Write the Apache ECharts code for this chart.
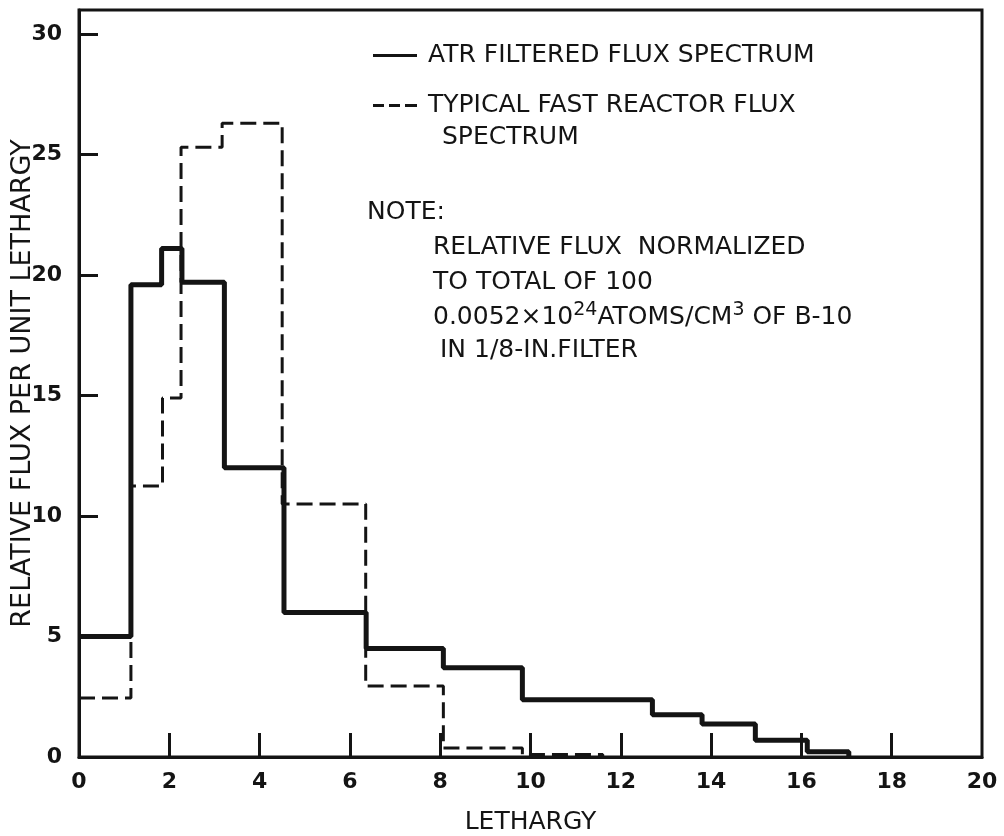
<!DOCTYPE html>
<html>
<head>
<meta charset="utf-8">
<script src="https://cdn.jsdelivr.net/npm/echarts@6/dist/echarts.min.js"></script>
<style>
  html, body { margin: 0; background: #fff; }
  #chart { width: 1004px; height: 836px; }
</style>
</head>
<body>
<div id="chart"></div>
<script>
// bin edges (lethargy) and flux per unit lethargy
const atrEdges = [0, 1.15, 1.83, 2.28, 3.22, 4.54, 6.36, 8.07, 9.82, 12.7, 13.8, 14.98, 16.13, 17.05];
const atrValues = [5.0, 19.6, 21.1, 19.7, 12.0, 6.0, 4.5, 3.7, 2.38, 1.75, 1.37, 0.7, 0.22];
const fastEdges = [0, 1.15, 1.85, 2.26, 3.17, 4.5, 6.35, 8.07, 9.82, 11.6];
const fastValues = [2.45, 11.25, 14.9, 25.3, 26.3, 10.5, 2.95, 0.37, 0.1];

const xTicks = [2, 4, 6, 8, 10, 12, 14, 16, 18];
const xLabels = [0, 2, 4, 6, 8, 10, 12, 14, 16, 18, 20];
const yTicks = [5, 10, 15, 20, 25, 30];
const yLabels = [0, 5, 10, 15, 20, 25, 30];

const ATR_NAME = 'ATR FILTERED FLUX SPECTRUM';
const FAST_NAME = 'TYPICAL FAST REACTOR FLUX';

const INK = '#141414';
const FONT = 'DejaVu Sans';

// legend glyphs: a plain bar and three dashes
const SOLID_ICON = 'path://M0,0H44V3H0Z';
const DASH_ICON = 'path://M0,0H11V3H0Z M16,0H27V3H16Z M32,0H44V3H32Z';

// turn edges + bin values into step points (step: 'end')
const toSteps = (edges, values) => {
  const pts = values.map((v, i) => [edges[i], v]);
  pts.push([edges[edges.length - 1], 0]);
  return pts;
};

const textLine = (x, y, text) => ({
  type: 'text', x, y,
  style: { text, fontFamily: FONT, fontSize: 25, fill: INK, verticalAlign: 'middle' },
});

const chart = echarts.init(document.getElementById('chart'));
chart.setOption({
  animation: false,
  backgroundColor: '#fff',
  grid: {
    left: 79,
    right: 22,
    top: 10,
    bottom: 79,
    show: true,
    borderColor: INK,
    borderWidth: 3,
    containLabel: false,
    outerBoundsMode: 'none',
  },
  legend: {
    orient: 'vertical',
    left: 368,
    top: 38,
    itemWidth: 44,
    itemHeight: 3,
    itemGap: 25,
    data: [
      { name: ATR_NAME, icon: SOLID_ICON },
      { name: FAST_NAME, icon: DASH_ICON },
    ],
    textStyle: {
      fontFamily: FONT,
      fontSize: 25,
      color: INK,
      padding: [0, 0, 0, 6],
    },
  },
  xAxis: {
    type: 'value',
    min: 0,
    max: 20,
    interval: 2,
    name: 'LETHARGY',
    nameLocation: 'middle',
    nameGap: 53,
    nameTextStyle: { fontFamily: FONT, fontSize: 25, color: INK },
    axisLine: { show: true, lineStyle: { color: INK, width: 3 } },
    axisTick: {
      show: true,
      inside: true,
      length: 24,
      customValues: xTicks,
      lineStyle: { color: INK, width: 3 },
    },
    axisLabel: {
      customValues: xLabels,
      margin: 14,
      fontFamily: FONT,
      fontSize: 22,
      fontWeight: 'bold',
      color: INK,
    },
    splitLine: { show: false },
  },
  yAxis: {
    type: 'value',
    min: 0,
    max: 31,
    interval: 5,
    name: 'RELATIVE FLUX PER UNIT LETHARGY',
    nameLocation: 'middle',
    nameGap: 43,
    nameMoveOverlap: false,
    nameTextStyle: { fontFamily: FONT, fontSize: 27, color: INK },
    axisLine: { show: true, lineStyle: { color: INK, width: 3 } },
    axisTick: {
      show: true,
      inside: true,
      length: 19,
      customValues: yTicks,
      lineStyle: { color: INK, width: 3 },
    },
    axisLabel: {
      customValues: yLabels,
      margin: 17,
      fontFamily: FONT,
      fontSize: 22,
      fontWeight: 'bold',
      color: INK,
    },
    splitLine: { show: false },
  },
  graphic: [
    textLine(442, 137, 'SPECTRUM'),
    textLine(367, 212, 'NOTE:'),
    textLine(433, 247, 'RELATIVE FLUX  NORMALIZED'),
    textLine(433, 282, 'TO TOTAL OF 100'),
    {
      type: 'text', x: 433, y: 317,
      style: {
        text: '0.0052×10{sup|24}ATOMS/CM{sup|3} OF B-10',
        fontFamily: FONT, fontSize: 25, fill: INK, verticalAlign: 'middle',
        rich: {
          sup: { fontFamily: FONT, fontSize: 19, fill: INK, padding: [0, 0, 14, 0] },
        },
      },
    },
    textLine(440, 350, 'IN 1/8-IN.FILTER'),
  ],
  series: [
    {
      name: ATR_NAME,
      type: 'line',
      step: 'end',
      symbol: 'none',
      lineStyle: { color: INK, width: 5 },
      itemStyle: { color: INK },
      data: toSteps(atrEdges, atrValues),
    },
    {
      name: FAST_NAME,
      type: 'line',
      step: 'end',
      symbol: 'none',
      lineStyle: { color: INK, width: 3, type: [16, 7] },
      itemStyle: { color: INK },
      data: toSteps(fastEdges, fastValues),
    },
  ],
});
</script>
</body>
</html>
